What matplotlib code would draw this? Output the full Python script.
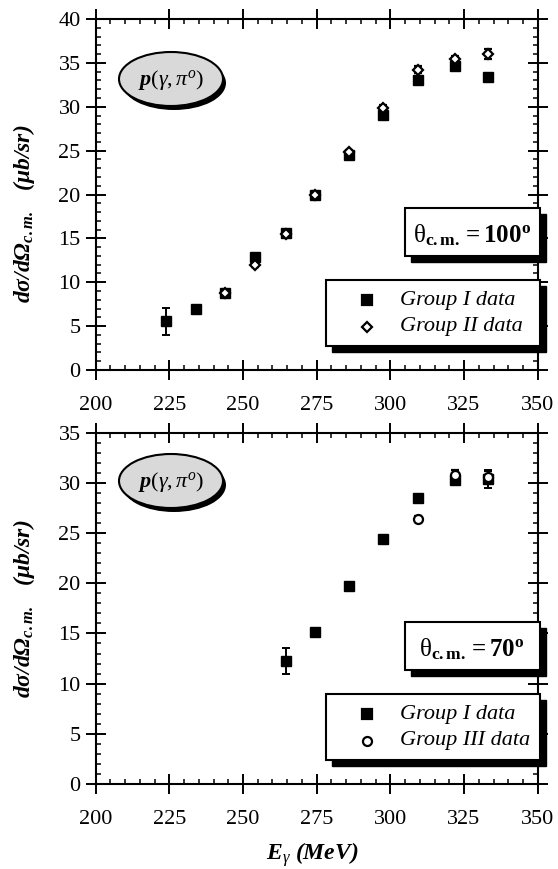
import matplotlib
matplotlib.use('Agg')
import matplotlib.pyplot as plt
from matplotlib.patches import Rectangle, Ellipse
from matplotlib.lines import Line2D
from matplotlib.ticker import MultipleLocator

# fonts (Times-like)
plt.rcParams['font.family'] = ['Liberation Serif', 'DejaVu Serif']
plt.rcParams['mathtext.fontset'] = 'custom'
plt.rcParams['mathtext.rm'] = 'Liberation Serif'
plt.rcParams['mathtext.it'] = 'Liberation Serif:italic'
plt.rcParams['mathtext.bf'] = 'Liberation Serif:bold'
plt.rcParams['mathtext.bfit'] = 'Liberation Serif:bold:italic'

# theta_cm = 100 deg
e100_g1 = [224, 234, 244, 254, 264.5, 274.5, 286, 297.5, 309.5, 322, 333]
xs100_g1 = [5.55, 7.0, 8.8, 12.9, 15.6, 19.9, 24.5, 29.1, 33.0, 34.7, 33.4]
err100_g1 = [1.55, 0.3, 0.3, 0.3, 0.3, 0.3, 0.3, 0.4, 0.4, 0.5, 0.5]

e100_g2 = [244, 254, 264.5, 274.5, 286, 297.5, 309.5, 322, 333]
xs100_g2 = [8.8, 12.0, 15.5, 20.0, 24.8, 29.9, 34.2, 35.4, 36.0]
err100_g2 = [0.3, 0.3, 0.3, 0.3, 0.3, 0.3, 0.4, 0.4, 0.6]

# theta_cm = 70 deg
e70_g1 = [264.5, 274.5, 286, 297.5, 309.5, 322, 333]
xs70_g1 = [12.25, 15.1, 19.7, 24.4, 28.5, 30.3, 30.4]
err70_g1 = [1.25, 0.3, 0.3, 0.3, 0.4, 0.5, 0.9]

e70_g3 = [309.5, 322, 333]
xs70_g3 = [26.4, 30.8, 30.6]
err70_g3 = [0.3, 0.5, 0.6]

W, H = 558, 869
fig = plt.figure(figsize=(W / 100, H / 100), dpi=100)


def fx(x):
    return x / W


def fy(y):
    return 1 - y / H


def setup(ax, ymax):
    ax.set_xlim(200, 350)
    ax.set_ylim(0, ymax)
    ax.xaxis.set_major_locator(MultipleLocator(25))
    ax.xaxis.set_minor_locator(MultipleLocator(5))
    ax.yaxis.set_major_locator(MultipleLocator(5))
    ax.yaxis.set_minor_locator(MultipleLocator(1))
    ax.tick_params(which='major', direction='inout', length=14, width=1.4,
                   top=True, right=True, labelsize=16)
    ax.tick_params(which='minor', direction='in', length=3.5, width=1.1,
                   top=True, right=True)
    ax.tick_params(axis='x', which='major', pad=12)
    ax.tick_params(axis='y', which='major', pad=3.8)
    for s in ax.spines.values():
        s.set_linewidth(1.5)


def shadow_box(x0, y0, x1, y1, off=6):
    fig.add_artist(Rectangle((fx(x0 + off), fy(y1 + off)), (x1 - x0) / W, (y1 - y0) / H,
                             transform=fig.transFigure, facecolor='black',
                             edgecolor='black', zorder=5))
    fig.add_artist(Rectangle((fx(x0), fy(y1)), (x1 - x0) / W, (y1 - y0) / H,
                             transform=fig.transFigure, facecolor='white',
                             edgecolor='black', linewidth=1.5, zorder=6))


def reaction_ellipse(cx, cy, w=104, h=54):
    fig.add_artist(Ellipse((fx(cx + 3), fy(cy + 4)), w / W, h / H,
                           transform=fig.transFigure, facecolor='black', zorder=5))
    fig.add_artist(Ellipse((fx(cx), fy(cy)), w / W, h / H, transform=fig.transFigure,
                           facecolor='#d9d9d9', edgecolor='black', linewidth=1.5, zorder=6))
    fig.text(fx(cx), fy(cy + 1), r'$\mathbfit{p}\mathit{(γ,π^{o})}$', fontsize=16,
             ha='center', va='center', zorder=7)


def legend_block(y_top, label2, marker2, ms2):
    shadow_box(326, y_top, 540, y_top + 66)
    rows = [('s', 'black', 7.5, 'Group I data'), (marker2, 'white', ms2, label2)]
    for i, (m, fc, ms, lab) in enumerate(rows):
        y = y_top + 20 + 27 * i
        fig.add_artist(Line2D([fx(367)], [fy(y)], marker=m, markersize=ms,
                              markerfacecolor=fc, markeredgecolor='black',
                              markeredgewidth=1.6, linestyle='none',
                              transform=fig.transFigure, zorder=7))
        fig.text(fx(400), fy(y), lab, fontsize=16, style='italic',
                 ha='left', va='center', zorder=7)


def theta_block(y_top, angle):
    shadow_box(405, y_top, 540, y_top + 48)
    fig.text(fx(472), fy(y_top + 34),
             r'$\mathrm{θ}_{\mathbf{c.m.}}\mathbf{= %d^{o}}$' % angle,
             fontsize=18, ha='center', va='baseline', zorder=7)


# top panel
ax1 = fig.add_axes([fx(95.7), fy(370), 442 / W, 351 / H])
setup(ax1, 40)
ax1.errorbar(e100_g1, xs100_g1, yerr=err100_g1, fmt='s', color='black',
             markersize=7.5, elinewidth=1.4, capsize=3, capthick=1.4, zorder=3)
ax1.errorbar(e100_g2, xs100_g2, yerr=err100_g2, fmt='D', color='black',
             markerfacecolor='white', markeredgewidth=1.6, markersize=5.5,
             elinewidth=1.4, capsize=3, capthick=1.4, zorder=4)

# bottom panel
ax2 = fig.add_axes([fx(95.7), fy(784), 442 / W, 351.3 / H])
setup(ax2, 35)
ax2.errorbar(e70_g1, xs70_g1, yerr=err70_g1, fmt='s', color='black',
             markersize=7.5, elinewidth=1.4, capsize=3, capthick=1.4, zorder=3)
ax2.errorbar(e70_g3, xs70_g3, yerr=err70_g3, fmt='o', color='black',
             markerfacecolor='white', markeredgewidth=1.6, markersize=6.5,
             elinewidth=1.4, capsize=3, capthick=1.4, zorder=4)

# annotations
reaction_ellipse(171, 79)
reaction_ellipse(171, 481)
theta_block(208, 100)
theta_block(622, 70)
legend_block(280, 'Group II data', 'D', 5.5)
legend_block(694, 'Group III data', 'o', 6.5)

# axis labels
ylab = r'dσ/dΩ$_{\mathbfit{c.m.}}$   (μb/sr)'
fig.text(fx(24), fy(214), ylab, rotation=90, fontsize=17, fontweight='bold',
         style='italic', ha='center', va='center')
fig.text(fx(24), fy(609), ylab, rotation=90, fontsize=17, fontweight='bold',
         style='italic', ha='center', va='center')
fig.text(fx(312), fy(855), r'E$_{γ}$ (MeV)', fontsize=17, fontweight='bold',
         style='italic', ha='center', va='center')

fig.savefig('out.png', dpi=100)
